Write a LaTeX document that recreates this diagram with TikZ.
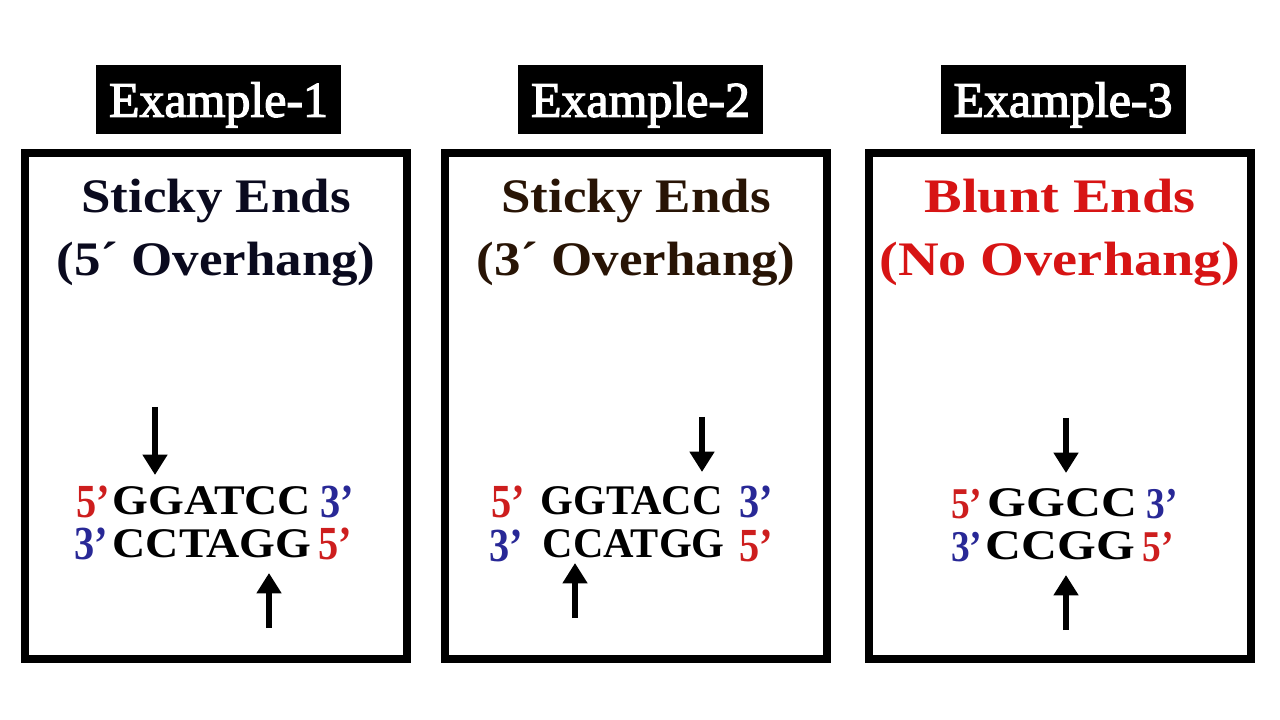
\documentclass[tikz,border=0pt]{standalone}
\usepackage{fontspec}
\setmainfont{Liberation Serif}
\newfontfamily\headfont[FakeStretch=1.1]{Liberation Serif}
\newfontfamily\bluntfont[FakeStretch=1.17]{Liberation Serif}
\newfontfamily\tagfont[FakeBold=2.5]{Liberation Serif}
\usetikzlibrary{positioning,arrows.meta}
\definecolor{fiveend}{RGB}{205,30,30}
\definecolor{threeend}{RGB}{40,40,150}
\definecolor{headone}{RGB}{10,10,30}
\definecolor{headtwo}{RGB}{40,20,5}
\definecolor{headthree}{RGB}{215,20,20}
\newcommand\seqfont[2]{\bfseries\fontsize{#1}{#1}\selectfont\addfontfeatures{FakeStretch=#2}}
\tikzset{
	panel/.style={draw=black,line width=2.3pt},
	tag/.style={fill=black,text=white,minimum width=2.45cm,minimum height=.69cm,inner sep=0pt,text depth=0pt,font=\tagfont\fontsize{14.2}{17}\selectfont},
	heading/.style={align=center,inner sep=0pt,anchor=north,font=\headfont\bfseries\fontsize{13.7}{17.9}\selectfont},
	seq/.style 2 args={inner sep=0pt,anchor=base west,font=\seqfont{#1}{#2}},
	fiveprime/.style={inner sep=0pt,yshift=-.03cm,text=fiveend,font=\seqfont{#1}{.85}},
	fiveprime/.default=13.5,
	threeprime/.style={inner sep=0pt,yshift=-.03cm,text=threeend,font=\seqfont{#1}{.85}},
	threeprime/.default=13.5,
	cut/.style={line width=1.6pt,-{Triangle[width=6.8pt,length=5.8pt]}}
}
\begin{document}
\begin{tikzpicture}
			%sticky and blunt ends
			\useasboundingbox (0,0)rectangle(12.8,-7.2);
			\draw [panel] (.25,-1.53)rectangle(4.07,-6.59);
			\draw [panel] (4.45,-1.53)rectangle(8.27,-6.59);
			\draw [panel] (8.69,-1.53)rectangle(12.51,-6.59);
			\node [tag] (tagA) at (2.185,-.995) {Example-1};
			\node [tag] (tagB) at (6.405,-.995) {Example-2};
			\node [tag] (tagC) at (10.63,-.995) {Example-3};
			\node [heading,text=headone] (headA) at (2.16,-1.78) {Sticky Ends\\(5´ Overhang)};
			\node [heading,text=headtwo] (headB) at (6.36,-1.78) {Sticky Ends\\(3´ Overhang)};
			\node [heading,text=headthree,font=\bluntfont\bfseries\fontsize{13.7}{17.9}\selectfont] (headC) at (10.6,-1.78) {Blunt Ends\\(No Overhang)};
			% example 1
			\node [seq={12}{1.09}] (topA) at (1.12,-5.15) {GGATCC};
			\node [seq={12}{1.09}] (botA) at (1.12,-5.57) {CCTAGG};
			\node [fiveprime,base left=.01cm of topA] (topAfive) {5’};
			\node [threeprime,base right=.08cm of topA] (topAthree) {3’};
			\node [threeprime,base left=.03cm of botA] (botAthree) {3’};
			\node [fiveprime,base right=.06cm of botA] (botAfive) {5’};
			\coordinate (cutAtop) at (1.55,-4.07);
			\coordinate (cutAtoptip) at (1.55,-4.75);
			\coordinate (cutAbot) at (2.69,-6.28);
			\coordinate (cutAbottip) at (2.69,-5.73);
			\draw [cut] (cutAtop)--(cutAtoptip);
			\draw [cut] (cutAbot)--(cutAbottip);
			% example 2
			\node [seq={12}{1}] (topB) at (5.4,-5.15) {GGTACC};
			\node [seq={12}{1}] (botB) at (5.42,-5.58) {CCATGG};
			\node [fiveprime,base left=.14cm of topB] (topBfive) {5’};
			\node [threeprime,base right=.15cm of topB] (topBthree) {3’};
			\node [threeprime,base left=.18cm of botB] (botBthree) {3’};
			\node [fiveprime,base right=.13cm of botB] (botBfive) {5’};
			\coordinate (cutBtop) at (7.02,-4.17);
			\coordinate (cutBtoptip) at (7.02,-4.72);
			\coordinate (cutBbot) at (5.75,-6.18);
			\coordinate (cutBbottip) at (5.75,-5.63);
			\draw [cut] (cutBtop)--(cutBtoptip);
			\draw [cut] (cutBbot)--(cutBbottip);
			% example 3
			\node [seq={12}{1.18}] (topC) at (9.87,-5.16) {GGCC};
			\node [seq={12}{1.18}] (botC) at (9.85,-5.59) {CCGG};
			\node [fiveprime=12.5,base left=.04cm of topC] (topCfive) {5’};
			\node [threeprime=12.5,base right=.08cm of topC] (topCthree) {3’};
			\node [threeprime=12.5,base left=.02cm of botC] (botCthree) {3’};
			\node [fiveprime=12.5,base right=.06cm of botC] (botCfive) {5’};
			\coordinate (cutCtop) at (10.66,-4.18);
			\coordinate (cutCtoptip) at (10.66,-4.73);
			\coordinate (cutCbot) at (10.66,-6.3);
			\coordinate (cutCbottip) at (10.66,-5.75);
			\draw [cut] (cutCtop)--(cutCtoptip);
			\draw [cut] (cutCbot)--(cutCbottip);
		\end{tikzpicture}
\end{document}
